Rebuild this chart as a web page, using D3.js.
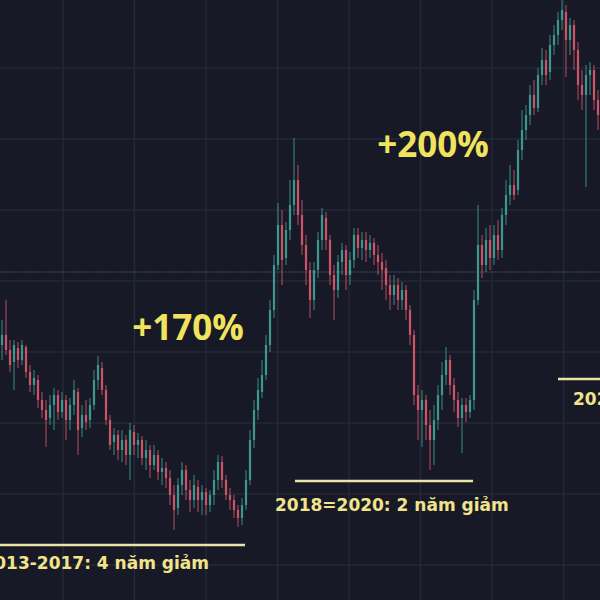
<!DOCTYPE html>
<html>
<head>
<meta charset="utf-8">
<script src="https://cdn.jsdelivr.net/npm/d3@7"></script>
<style>
  html, body { margin: 0; padding: 0; background: #171a26; }
  svg { display: block; }
</style>
</head>
<body>
<svg id="chart" width="600" height="600"></svg>
<script>
// ---- Data (price, arbitrary units) ----
const openP = [
  25.5,26.5,25,23.8,25.2,24,25.3,22.8,21.5,22,
  20,19,18.2,19.5,20.5,18.8,20,18,19.5,20.8,
  17.2,18.5,18,19.5,22,23.2,21,18,15.8,16.5,
  15,16,14.5,16.8,15.5,16,14.2,15,13.5,14.5,
  12.8,13.2,12.2,10.5,9.2,11.5,13,11,10,11.3,
  10,10.8,9.5,10.5,12,13.8,12,10.5,10,9,
  8.2,9.5,12,16,19,20.8,22.5,25.5,29,33.5,
  37.5,34.2,37,39.5,42,38.5,35.5,33,30,33,
  36,38.2,36,32.5,31,33.8,35,32.5,34,36.5,
  35.2,36,35,35.7,34.5,33.8,33.2,31.5,30.5,31.5,
  30,31,29,26.5,20.5,19,20,17.5,16,18,
  20.5,22.5,24,21.5,20,18.2,19.5,18.8,20,30,
  35.5,33.5,36,34.2,36.5,35,38.5,40.5,41.5,41,
  45,47,48.5,50.5,49.2,52.5,54,52.8,55.5,56.5,
  58,58.8,56,57.5,55,51.5,50.5,52.5,53,50
];
const closeP = [
  26.5,25,23.5,25.5,24,25.5,22.8,21.5,22.2,20,
  19,18,19.5,20.5,18.8,20,18,19.5,21,17,
  18.5,17.8,19.5,22,23.5,21,18,15.5,16.5,15,
  16,14.5,17,15.5,16,14.2,15,13.5,14.5,12.8,
  13.2,12.2,10.5,9,11.5,13,11,10,11.5,10,
  10.8,9.5,10.5,12,13.8,12,10.5,10,9,8.2,
  9.5,12,16,19,21,22.5,25.5,29,33.5,37.5,
  34,37,39.5,42,38.5,35.5,33,30,33,36,
  38.5,36,32.5,31,33.8,35,32.5,34,36.5,35.2,
  36,35,35.7,34.5,33.8,33,31.5,30.5,31.5,30,
  31,29,26.5,20.5,19,20,17.5,16,18,20.5,
  22.5,24,21.5,20,18.2,19.5,18.8,20,30,35.5,
  33.5,36,34.2,36.5,35,38.5,40.5,41.5,40.5,45,
  47,48.5,50.5,49.2,52.5,54,52.5,55.5,56.5,58,
  59,56,57.5,55,51.5,50.5,52.5,53,50,48.5
];
const highP = [
  28,30,26,26,25.8,26,25.5,23.5,23,22.5,
  20.8,20,20.5,21.2,21,20.8,20.5,20.2,22,21.2,
  19.5,20,20.2,23,24.4,23.8,21.5,18.5,17.2,17,
  17,16.5,17.7,17.5,16.7,16.4,16,15.5,15.5,15,
  14.2,13.8,13,11.5,12.2,13.8,13.5,12,12.5,12,
  11.5,11.2,11,13,14.5,14.4,12.5,11.2,10.5,9.5,
  10.2,13,17,20,22.2,24,26.5,30,34.5,39.7,
  39,37.8,42,46.2,43.5,40,36.5,33.8,33.8,36.8,
  39.2,38.8,36.5,33.5,34.5,35.7,35.5,34.8,37.2,37.2,
  36.8,36.8,36.5,36.2,35.5,34.7,34,32.5,32.5,32.2,
  31.8,31.5,29.5,27,21.5,21,20.5,19,19.5,21.5,
  23.8,25.3,24.5,22.2,20.8,20.2,20.2,20.5,31,39.5,
  36.5,37.2,37.5,37.5,38,39.2,42,43.5,43,46,
  49,49.5,51.5,52,53.2,55.2,55,56.5,57.5,58.8,
  60,59.5,58.2,58,55.8,53,53.5,53.8,53.5,51
];
const lowP = [
  24,24.5,22.8,21,23.2,23.5,22.2,20.8,20.5,19.2,
  18.2,15.3,17.5,17,18,18.2,16,17,18.5,14.5,
  16.3,17,17.2,19,21,20.5,17.5,15,14.5,14,
  13.8,13.5,12,14.5,14.2,13.5,13,12.2,13,12,
  11.5,11.2,9.5,7,8.5,10.5,10,8.8,9.2,8.8,
  8.5,8.5,8.8,9.5,11,11.2,10,9,8.2,7.3,
  7.5,9,11.5,15.2,18,20.2,22,24.8,28.2,33,
  31.5,33.5,36,38.5,37.5,34.5,31.5,28.2,29,32.2,
  35,35,31.5,28,30.2,32.5,31,31.5,33.2,34.2,
  34,33.8,34.2,33.5,32.5,31,30,29,29.5,29,
  29,28,25.5,19.5,16,15.3,16,13,13.5,17,
  19,21.5,20.5,18.8,17.3,14.7,17.8,18.2,19,29.5,
  32.2,32.8,33,33.5,34,34.2,37.5,39.5,40,40.5,
  44,46,47.5,48.5,48.8,51.5,51.5,52,54.5,55.5,
  57,52.3,54.5,53,50,49,41.3,50.5,49,47
];
// grid tick positions (price / bar index) and reference price line
const priceGridTicks = [53.2, 46.1, 39, 31.9, 24.8, 17.7, 10.6, 3.5];
const timeGridTicks = [15.25, 33.1, 51, 68.9, 86.75, 104.6, 122.5, 140.4];
const refPrice = 32.8;

// annotations
const gainLabels = ["+170%", "+200%"];
const periodLabels = ["2013-2017: 4 năm giảm", "2018=2020: 2 năm giảm", "2022-2023: giảm"];

// ---- Drawing ----
const W = 600, H = 600;
const svg = d3.select("#chart");
svg.append("rect").attr("width", W).attr("height", H).attr("fill", "#171a26");

const n = closeP.length;
const x = d3.scaleLinear().domain([-0.5, n - 0.5]).range([0, W]);
const y = d3.scaleLinear().domain([0, 60]).range([H, 0]);

// grid
const grid = svg.append("g");
grid.selectAll("line.h").data(priceGridTicks).join("line")
  .attr("x1", 0).attr("x2", W)
  .attr("y1", d => y(d)).attr("y2", d => y(d))
  .attr("stroke", "#242837").attr("stroke-width", 1.5);
grid.selectAll("line.v").data(timeGridTicks).join("line")
  .attr("y1", 0).attr("y2", H)
  .attr("x1", d => x(d)).attr("x2", d => x(d))
  .attr("stroke", "#242837").attr("stroke-width", 1.5);

// dotted price line
svg.append("line")
  .attr("x1", 0).attr("x2", W)
  .attr("y1", y(refPrice)).attr("y2", y(refPrice))
  .attr("stroke", "#56606f").attr("stroke-width", 1)
  .attr("stroke-dasharray", "1.5,1.5");

const candles = d3.range(n).map(i => ({
  i, o: openP[i], h: highP[i], l: lowP[i], c: closeP[i]
}));
const upCol = "#3fa096", downCol = "#d9566a";
const bw = 2.2;
const cg = svg.append("g");
cg.selectAll("line.wick").data(candles).join("line")
  .attr("x1", d => x(d.i)).attr("x2", d => x(d.i))
  .attr("y1", d => y(Math.max(d.h, d.o, d.c)))
  .attr("y2", d => y(Math.min(d.l, d.o, d.c)))
  .attr("stroke", d => d.c >= d.o ? upCol : downCol)
  .attr("stroke-width", 1)
  .attr("opacity", 0.85);
cg.selectAll("rect.body").data(candles).join("rect")
  .attr("x", d => x(d.i) - bw / 2)
  .attr("width", bw)
  .attr("y", d => y(Math.max(d.o, d.c)))
  .attr("height", d => Math.max(1, Math.abs(y(d.o) - y(d.c))))
  .attr("fill", d => d.c >= d.o ? upCol : downCol)
  .attr("opacity", 0.9);

// annotations
const big = svg.append("g").attr("font-family", "'Open Sans', sans-serif")
  .attr("font-weight", 700).attr("font-size", 35).attr("fill", "#f2e35e")
  .attr("text-anchor", "middle");
big.append("text").attr("x", 188).attr("y", 340).text(gainLabels[0]);
big.append("text").attr("x", 433).attr("y", 157).text(gainLabels[1]);

const ann = svg.append("g").attr("font-family", "'DejaVu Sans', Verdana, sans-serif")
  .attr("font-weight", 700);
const lineCol = "#ece3a6", textCol = "#f1e48c";
const periods = [
  {x1: 0, x2: 245, ly: 545, tx: 209, anchor: "end", ty: 569, t: periodLabels[0]},
  {x1: 295, x2: 473, ly: 481, tx: 275, anchor: "start", ty: 511, t: periodLabels[1]},
  {x1: 558, x2: 600, ly: 379, tx: 573, anchor: "start", ty: 405, t: periodLabels[2]}
];
periods.forEach(p => {
  ann.append("line").attr("x1", p.x1).attr("x2", p.x2).attr("y1", p.ly).attr("y2", p.ly)
    .attr("stroke", lineCol).attr("stroke-width", 2.5);
  ann.append("text").attr("x", p.tx).attr("y", p.ty).attr("font-size", 17)
    .attr("text-anchor", p.anchor)
    .attr("fill", textCol).text(p.t);
});
</script>
</body>
</html>
